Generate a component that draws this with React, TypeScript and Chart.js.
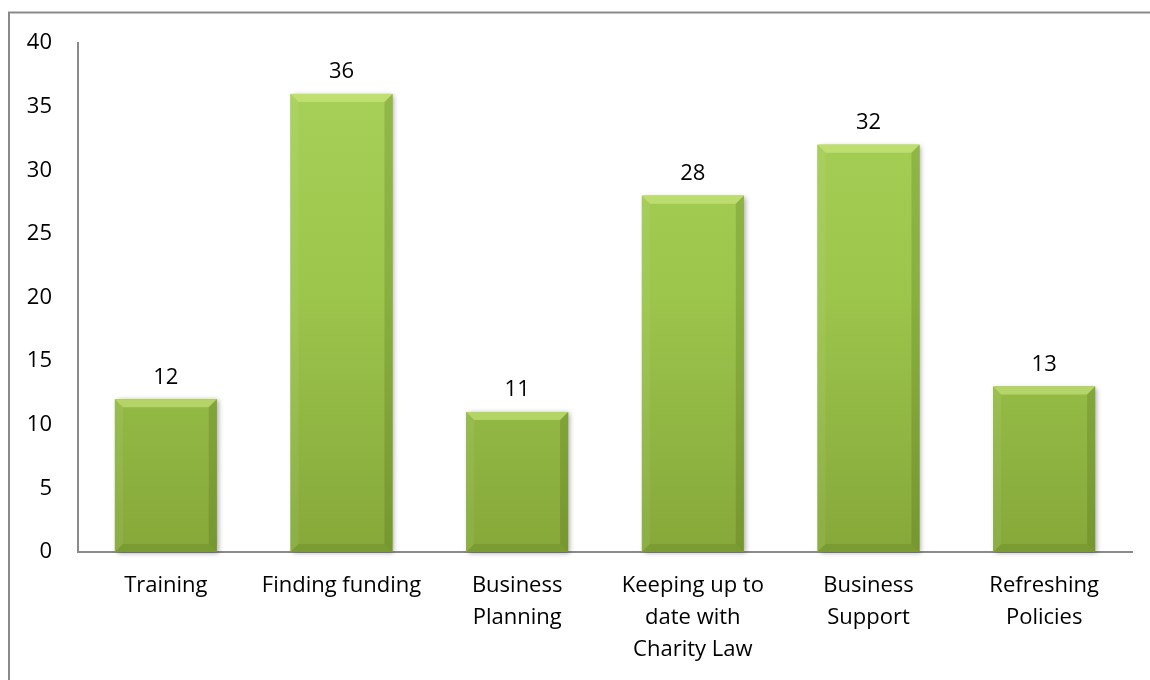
import React, { useEffect, useRef } from "react";
import { Chart, registerables } from "chart.js";

Chart.register(...registerables);

const categories: (string | string[])[] = [
  "Training",
  "Finding funding",
  ["Business", "Planning"],
  ["Keeping up to", "date with", "Charity Law"],
  ["Business", "Support"],
  ["Refreshing", "Policies"],
];
const values: number[] = [12, 36, 11, 28, 32, 13];
const yTicks: number[] = [0, 5, 10, 15, 20, 25, 30, 35, 40];

const FONT = "'Open Sans', 'Noto Sans', sans-serif";
const FONT_SIZE = 22;

const framePlugin = {
  id: "frame",
  beforeDraw(chart: any) {
    const ctx = chart.ctx;
    ctx.save();
    ctx.fillStyle = "#ffffff";
    ctx.fillRect(0, 0, chart.width, chart.height);
    ctx.strokeStyle = "#8a8a8a";
    ctx.lineWidth = 2;
    ctx.beginPath();
    ctx.moveTo(9, chart.height + 2);
    ctx.lineTo(9, 12.5);
    ctx.lineTo(chart.width + 2, 12.5);
    ctx.stroke();
    ctx.restore();
  },
};

const bevelPlugin = {
  id: "bevel",
  beforeDatasetsDraw(chart: any) {
    const ctx = chart.ctx;
    const meta = chart.getDatasetMeta(0);
    ctx.save();
    meta.data.forEach((bar: any) => {
      const { x, y, base, width } = bar.getProps(["x", "y", "base", "width"], true);
      const l = x - width / 2;
      ctx.shadowColor = "rgba(0,0,0,0.35)";
      ctx.shadowBlur = 5;
      ctx.shadowOffsetX = 2;
      ctx.shadowOffsetY = 1;
      ctx.fillStyle = "#8aac3e";
      ctx.fillRect(l, y, width, base - y);
    });
    ctx.restore();
  },
  afterDatasetsDraw(chart: any) {
    const ctx = chart.ctx;
    const meta = chart.getDatasetMeta(0);
    ctx.save();
    meta.data.forEach((bar: any, i: number) => {
      const { x, y, base, width } = bar.getProps(["x", "y", "base", "width"], true);
      const l = x - width / 2;
      const r = x + width / 2;
      const t = y;
      const btm = base;
      const b = 8;
      // top bevel
      ctx.beginPath();
      ctx.moveTo(l, t);
      ctx.lineTo(r, t);
      ctx.lineTo(r - b, t + b);
      ctx.lineTo(l + b, t + b);
      ctx.closePath();
      ctx.fillStyle = "rgba(215,240,140,0.5)";
      ctx.fill();
      // left bevel
      ctx.beginPath();
      ctx.moveTo(l, t);
      ctx.lineTo(l + b, t + b);
      ctx.lineTo(l + b, btm - b);
      ctx.lineTo(l, btm);
      ctx.closePath();
      ctx.fillStyle = "rgba(255,255,255,0.06)";
      ctx.fill();
      // right bevel
      ctx.beginPath();
      ctx.moveTo(r, t);
      ctx.lineTo(r - b, t + b);
      ctx.lineTo(r - b, btm - b);
      ctx.lineTo(r, btm);
      ctx.closePath();
      ctx.fillStyle = "rgba(40,60,0,0.16)";
      ctx.fill();
      // bottom bevel
      ctx.beginPath();
      ctx.moveTo(l, btm);
      ctx.lineTo(l + b, btm - b);
      ctx.lineTo(r - b, btm - b);
      ctx.lineTo(r, btm);
      ctx.closePath();
      ctx.fillStyle = "rgba(40,60,0,0.12)";
      ctx.fill();
      // value label
      ctx.fillStyle = "#000000";
      ctx.font = `${FONT_SIZE}px ${FONT}`;
      ctx.textAlign = "center";
      ctx.textBaseline = "middle";
      ctx.fillText(String(values[i]), x, t - 22);
    });
    ctx.restore();
  },
};

export default function App() {
  const ref = useRef<HTMLCanvasElement | null>(null);
  useEffect(() => {
    if (!ref.current) return;
    const chart = new Chart(ref.current, {
      type: "bar",
      data: {
        labels: categories,
        datasets: [
          {
            data: values,
            backgroundColor: (c: any) => {
              const area = c.chart.chartArea;
              if (!area) return "#98c24a";
              const g = c.chart.ctx.createLinearGradient(0, area.top, 0, area.bottom);
              g.addColorStop(0, "#a9d25a");
              g.addColorStop(0.5, "#9cc54c");
              g.addColorStop(1, "#86a83a");
              return g;
            },
            borderWidth: 0,
            barPercentage: 0.58,
            categoryPercentage: 1,
          },
        ],
      },
      options: {
        responsive: false,
        animation: false,
        layout: { padding: { left: 0, top: 43, right: 18, bottom: 0 } },
        plugins: {
          legend: { display: false },
          tooltip: { enabled: false },
          title: { display: false },
        },
        scales: {
          x: {
            grid: { display: false, drawTicks: false },
            border: { display: true, color: "#8a8a8a", width: 2 },
            ticks: {
              color: "#000000",
              font: { family: FONT, size: FONT_SIZE, lineHeight: 1.45 },
              padding: 18,
              maxRotation: 0,
              autoSkip: false,
            },
            afterFit: (s: any) => {
              s.height = 128;
            },
          },
          y: {
            min: 0,
            max: 40,
            afterBuildTicks: (s: any) => {
              s.ticks = yTicks.map((v) => ({ value: v }));
            },
            grid: { display: false, drawTicks: false },
            border: { display: true, color: "#8a8a8a", width: 2 },
            ticks: {
              color: "#000000",
              font: { family: FONT, size: FONT_SIZE },
              padding: 26,
            },
            afterFit: (s: any) => {
              s.width = 78;
            },
          },
        },
      },
      plugins: [framePlugin, bevelPlugin],
    });
    return () => chart.destroy();
  }, []);
  return (
    <div style={{ position: "absolute", left: 0, top: 0, width: 1150, height: 680 }}>
      <canvas ref={ref} width={1150} height={680} style={{ display: "block" }} />
    </div>
  );
}
